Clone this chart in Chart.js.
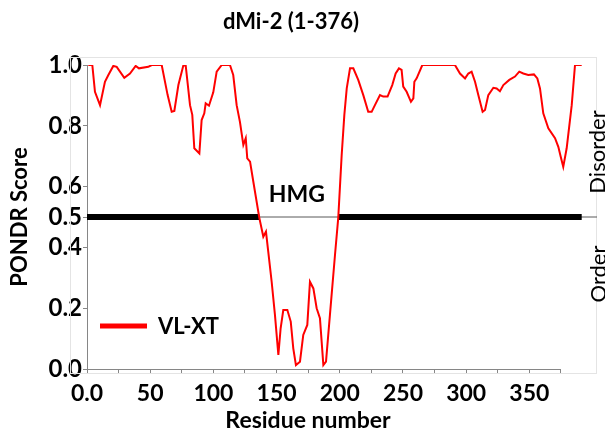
<!DOCTYPE html>
<html><head><meta charset="utf-8">
<script src="https://cdn.jsdelivr.net/npm/chart.js@4.4.1/dist/chart.umd.min.js"></script>
<style>html,body{margin:0;padding:0;background:#fff;}canvas{display:block;}</style>
</head><body>
<canvas id="c" width="605" height="437"></canvas>
<script>
// ---- data ----
const chartTitle = 'dMi-2 (1-376)';
const seriesName = 'VL-XT';
const residuePos = [1,4.2,6.3,10.3,14.2,16.9,20.8,23.5,29.5,34,38.5,41.1,48.5,51.2,59.1,63.8,67,69.1,72.3,76.2,78.1,81.5,83.3,84.9,88.9,90.7,92.8,93.9,96.5,99.9,102.6,106.6,113.1,115.7,118.4,121,123.7,125.6,126.8,129,131.6,136.3,139.5,141.6,143.4,146.1,148.7,151.4,153.2,155.3,158.5,161.2,163.2,165.3,168.5,171.1,174.3,176.4,179.1,181.7,184.3,187,189.1,192.2,196.2,198.8,201.5,203.6,205.5,208.1,210.7,214.6,218.6,222.5,225.2,227.8,231.8,234.4,237.8,241.5,244.2,246.8,248.9,250.2,252.9,256.3,258.2,259,260.8,265.3,291.1,295.1,299.1,301.7,304.3,307,309.6,313,314.9,317.5,321.5,324.1,326.7,329.4,334.1,338.6,342,345.2,349.1,353.6,356.3,358.4,361,365,370.3,372.9,374.8,376.8,379.5,383.5,386.1,391.4];
const vlxtScore = [1.0,1.0,0.912,0.868,0.945,0.967,0.997,0.994,0.958,0.972,0.997,0.989,0.994,1.0,1.0,0.901,0.846,0.849,0.934,0.998,0.998,0.868,0.836,0.726,0.709,0.819,0.841,0.874,0.866,0.91,0.978,1.0,1.0,0.967,0.868,0.813,0.737,0.759,0.693,0.682,0.616,0.498,0.435,0.452,0.386,0.287,0.178,0.046,0.134,0.194,0.194,0.156,0.068,0.013,0.024,0.112,0.145,0.287,0.265,0.2,0.167,0.013,0.024,0.178,0.375,0.498,0.704,0.836,0.923,0.989,0.989,0.951,0.901,0.846,0.846,0.868,0.901,0.896,0.896,0.934,0.972,0.989,0.984,0.929,0.912,0.879,0.890,0.945,0.956,1.0,1.0,0.972,0.956,0.972,0.978,0.945,0.901,0.846,0.852,0.901,0.925,0.923,0.914,0.934,0.951,0.962,0.978,0.972,0.967,0.969,0.956,0.923,0.841,0.792,0.759,0.731,0.698,0.665,0.726,0.868,1.0,1.0];
const thresholdValue = 0.5;
const thresholdThinX = [0, 403.5];
const thresholdThickX = [0, 136.3, null, 198.8, 391.4];
const domainLabel = 'HMG';
const domainLabelX = 166;
const xTickValues = [0,25,50,75,100,125,150,175,200,225,250,275,300,325,350,375];
const xTickLabels = ['0.0','','50','','100','','150','','200','','250','','300','','350',''];
const yTickValues = [0,0.2,0.4,0.5,0.6,0.8,1.0];
const yTickLabels = ['0.0','0.2','0.4','0.5','0.6','0.8','1.0'];
const xAxisEnd = 375;
const xMax = 403.5;
const xTitle = 'Residue number';
const yTitle = 'PONDR Score';
const sideLabels = ['Disorder','Order'];

const FONT = 'Lato';
const AXIS = '#868686';

const vlxtData = residuePos.map((x,i)=>({x:x,y:vlxtScore[i]}));
const thinData = thresholdThinX.map(x=>({x:x,y:thresholdValue}));
const thickData = thresholdThickX.map((x,i)=> x===null ? {x:(thresholdThickX[i-1]+thresholdThickX[i+1])/2, y:null} : {x:x,y:thresholdValue});

const textPlugin = {
  id:'texts',
  beforeDatasetsDraw(chart){
    const ctx = chart.ctx;
    const xs = chart.scales.x;
    const ca = chart.chartArea;
    ctx.save();
    ctx.strokeStyle = '#e4e4e4'; ctx.lineWidth = 1;
    ctx.strokeRect(70.5, 57.5, 526, 316);
    ctx.strokeStyle = AXIS; ctx.lineWidth = 1;
    ctx.beginPath();
    ctx.moveTo(xs.getPixelForValue(0), Math.round(ca.bottom)+0.5);
    ctx.lineTo(xs.getPixelForValue(xAxisEnd), Math.round(ca.bottom)+0.5);
    ctx.stroke();
    ctx.restore();
  },
  afterDraw(chart){
    const ctx = chart.ctx;
    const xs = chart.scales.x;
    ctx.save();
    ctx.fillStyle = '#000';
    ctx.textAlign = 'center'; ctx.textBaseline = 'middle';
    ctx.font = 'bold 22px ' + FONT;
    ctx.fillText(chartTitle, 291, 22);
    ctx.font = 'bold 23px ' + FONT;
    ctx.fillText(xTitle, 308, 421);
    ctx.save();
    ctx.translate(20, 217); ctx.rotate(-Math.PI/2);
    ctx.font = 'bold 22px ' + FONT;
    ctx.fillText(yTitle, 0, 0);
    ctx.restore();
    ctx.font = 'bold 23px ' + FONT;
    ctx.fillText(domainLabel, xs.getPixelForValue(domainLabelX), 195);
    ctx.font = '22px ' + FONT;
    ctx.save(); ctx.translate(598, 152); ctx.rotate(-Math.PI/2); ctx.fillText(sideLabels[0],0,0); ctx.restore();
    ctx.save(); ctx.translate(599, 274); ctx.rotate(-Math.PI/2); ctx.fillText(sideLabels[1],0,0); ctx.restore();
    const ds = chart.data.datasets[2];
    ctx.strokeStyle = ds.borderColor; ctx.lineWidth = 5;
    ctx.beginPath(); ctx.moveTo(100, 326); ctx.lineTo(147, 326); ctx.stroke();
    ctx.textAlign = 'left';
    ctx.font = 'bold 22px ' + FONT;
    ctx.fillText(ds.label, 158, 327);
    ctx.restore();
  }
};

new Chart(document.getElementById('c'), {
  type:'line',
  data:{datasets:[
    {label:'threshold', data:thinData, borderColor:'#595959', borderWidth:1, pointRadius:0, order:3},
    {label:'threshold-thick', data:thickData, borderColor:'#000', borderWidth:6, pointRadius:0, spanGaps:false, borderCapStyle:'butt', order:2},
    {label:seriesName, data:vlxtData, borderColor:'#ff0000', borderWidth:2, pointRadius:0, tension:0, order:1}
  ]},
  options:{
    responsive:false, animation:false,
    layout:{padding:{top:65,right:8,left:0,bottom:0}},
    plugins:{legend:{display:false}, title:{display:false}, tooltip:{enabled:false}},
    scales:{
      x:{type:'linear', min:0, max:xMax,
        afterFit(s){ s.height = 68; },
        afterBuildTicks(s){ s.ticks = xTickValues.map(v=>({value:v})); },
        ticks:{autoSkip:false, maxRotation:0, padding:6, color:'#000',
          font:{family:FONT, size:23, weight:'bold'},
          callback(v){ const i = xTickValues.indexOf(v); return i>=0 ? xTickLabels[i] : ''; }},
        grid:{drawOnChartArea:false, drawTicks:true, tickLength:5, color:AXIS},
        border:{display:false}
      },
      y:{type:'linear', min:0, max:1,
        afterFit(s){ s.width = 87; },
        afterBuildTicks(s){ s.ticks = yTickValues.map(v=>({value:v})); },
        ticks:{padding:1, color:'#000', font:{family:FONT, size:24, weight:'bold'},
          callback(v){ const i = yTickValues.indexOf(v); return i>=0 ? yTickLabels[i] : ''; }},
        grid:{drawOnChartArea:false, drawTicks:true, tickLength:4, color:AXIS},
        border:{display:true, color:AXIS, width:1}
      }
    }
  },
  plugins:[textPlugin]
});
</script>
</body></html>
